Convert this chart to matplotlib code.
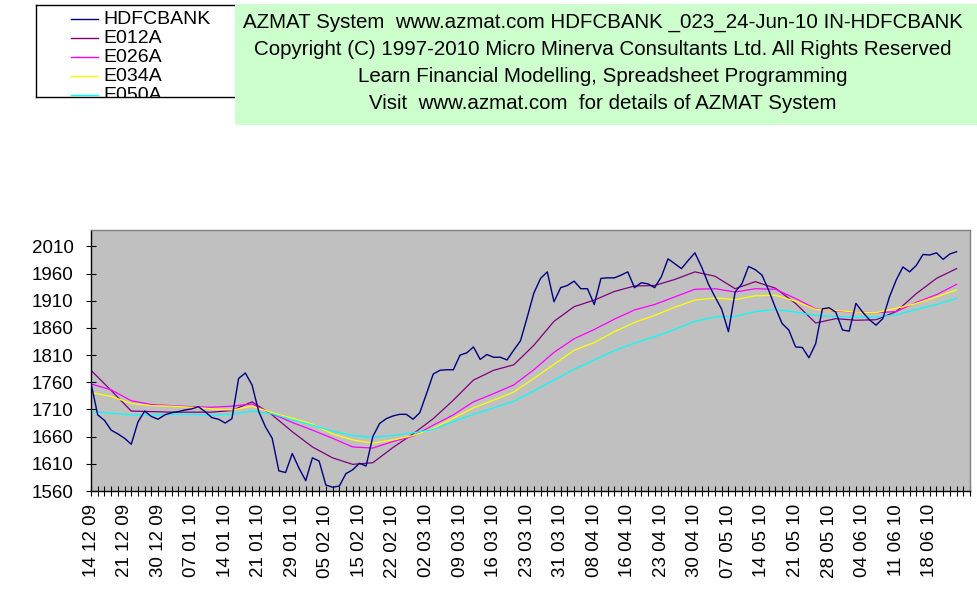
import numpy as np
import matplotlib.pyplot as plt

plt.rcParams['font.family'] = ['Liberation Sans', 'DejaVu Sans']

# closing prices, one per trading day (14 Dec 09 .. 24 Jun 10)
hdfcbank = [
    1758, 1700, 1690, 1672, 1665, 1657, 1646, 1687, 1707, 1697,
    1692, 1700, 1704, 1706, 1709, 1711, 1715, 1706, 1695, 1692,
    1685, 1693, 1767, 1777, 1755, 1706, 1678, 1657, 1597, 1594,
    1629, 1602, 1579, 1621, 1615, 1571, 1567, 1569, 1592, 1599,
    1611, 1606, 1660, 1684, 1693, 1698, 1701, 1701, 1692, 1704,
    1739, 1775, 1782, 1783, 1783, 1810, 1814, 1825, 1802, 1811,
    1806, 1806, 1801, 1819, 1836, 1879, 1924, 1951, 1963, 1908,
    1934, 1938, 1946, 1932, 1932, 1903, 1951, 1952, 1952, 1957,
    1963, 1934, 1943, 1941, 1934, 1954, 1987, 1978, 1969, 1984,
    1998, 1972, 1941, 1917, 1894, 1853, 1926, 1941, 1973, 1967,
    1957, 1929, 1897, 1868, 1856, 1825, 1824, 1805, 1831, 1895,
    1897, 1889, 1856, 1854, 1905, 1889, 1875, 1865, 1877, 1917,
    1948, 1972, 1963, 1975, 1995, 1994, 1998, 1986, 1996, 2000,
]

ema_days = list(range(0, 130, 3))
e012a = [1782, 1745, 1707, 1706, 1705, 1705, 1705, 1708, 1724, 1700,
         1669, 1641, 1621, 1609, 1612, 1640, 1665, 1693, 1727, 1764,
         1782, 1792, 1828, 1872, 1899, 1911, 1927, 1937, 1938, 1949,
         1963, 1955, 1932, 1945, 1933, 1905, 1869, 1877, 1874, 1875,
         1890, 1923, 1951, 1969]
e026a = [1757, 1746, 1726, 1719, 1717, 1715, 1714, 1716, 1720, 1702,
         1686, 1672, 1657, 1641, 1639, 1651, 1661, 1681, 1700, 1724,
         1739, 1755, 1783, 1815, 1840, 1857, 1876, 1893, 1903, 1917,
         1931, 1932, 1926, 1932, 1931, 1914, 1895, 1891, 1889, 1888,
         1890, 1907, 1921, 1940]
e034a = [1741, 1734, 1721, 1717, 1716, 1714, 1711, 1709, 1716, 1704,
         1694, 1683, 1665, 1654, 1648, 1654, 1662, 1675, 1694, 1713,
         1727, 1742, 1767, 1793, 1819, 1833, 1853, 1870, 1883, 1898,
         1911, 1915, 1912, 1919, 1920, 1909, 1894, 1892, 1889, 1888,
         1896, 1905, 1917, 1930]
e050a = [1706, 1703, 1700, 1700, 1701, 1701, 1700, 1701, 1707, 1702,
         1691, 1681, 1670, 1662, 1659, 1662, 1667, 1673, 1688, 1701,
         1713, 1725, 1744, 1764, 1784, 1801, 1818, 1832, 1844, 1857,
         1872, 1880, 1881, 1890, 1894, 1889, 1883, 1881, 1880, 1880,
         1884, 1894, 1903, 1914]

date_labels = ['14 12 09', '21 12 09', '30 12 09', '07 01 10', '14 01 10',
               '21 01 10', '29 01 10', '05 02 10', '15 02 10', '22 02 10',
               '02 03 10', '09 03 10', '16 03 10', '23 03 10', '31 03 10',
               '08 04 10', '16 04 10', '23 04 10', '30 04 10', '07 05 10',
               '14 05 10', '21 05 10', '28 05 10', '04 06 10', '11 06 10',
               '18 06 10']
y_ticks = list(range(1560, 2011, 50))

names = ['HDFCBANK', 'E012A', 'E026A', 'E034A', 'E050A']
colors = ['#000080', '#800080', '#FF00FF', '#FFFF00', '#00FFFF']

W, H = 977, 600
fig = plt.figure(figsize=(W / 100, H / 100), dpi=100)
fig.patch.set_facecolor('white')

# green title box
fig.patches.append(plt.Rectangle((235 / W, 1 - 125 / H), (W - 235) / W, 121 / H,
                                 transform=fig.transFigure, facecolor='#CCFFCC',
                                 edgecolor='none', zorder=0))
title_lines = [
    'AZMAT System  www.azmat.com HDFCBANK _023_24-Jun-10 IN-HDFCBANK',
    'Copyright (C) 1997-2010 Micro Minerva Consultants Ltd. All Rights Reserved',
    'Learn Financial Modelling, Spreadsheet Programming',
    'Visit  www.azmat.com  for details of AZMAT System',
]
for k, line in enumerate(title_lines):
    fig.text(603 / W, 1 - (22 + 27.3 * k) / H, line, ha='center', va='center',
             fontsize=14.8)

# main plot
ax = fig.add_axes([91 / W, 1 - 491 / H, 879 / W, 261 / H])
ax.set_facecolor('#C0C0C0')
days = np.arange(len(hdfcbank))
ax.plot(days, hdfcbank, color=colors[0], lw=1.0, zorder=5)
ax.plot(ema_days, e012a, color=colors[1], lw=0.9)
ax.plot(ema_days, e026a, color=colors[2], lw=0.9)
ax.plot(ema_days, e034a, color=colors[3], lw=0.9)
ax.plot(ema_days, e050a, color=colors[4], lw=0.9)

ax.set_xlim(0, 131)
ax.set_ylim(1560, 2040)
ax.set_yticks(y_ticks)
ax.set_yticklabels([str(v) for v in y_ticks], fontsize=13.5)
ax.set_xticks(np.arange(0, 132), minor=True)
ax.set_xticks(np.arange(0, 5 * len(date_labels), 5))
ax.set_xticklabels(date_labels, rotation=90, fontsize=13.5)
ax.tick_params(axis='both', which='both', direction='inout', length=7,
               width=0.8, color='black')
ax.tick_params(axis='x', which='major', pad=6)
ax.tick_params(axis='y', pad=9)
for side in ['top', 'right']:
    ax.spines[side].set_color('#808080')
for side in ['left', 'bottom']:
    ax.spines[side].set_color('black')
for s in ax.spines.values():
    s.set_linewidth(1.0)

# legend box, bottom entry cut off like the original
lg = fig.add_axes([36 / W, 1 - 97 / H, 202 / W, 92 / H])
lg.set_xlim(0, 202)
lg.set_ylim(92, 0)
lg.set_xticks([])
lg.set_yticks([])
lg.set_facecolor('white')
for s in lg.spines.values():
    s.set_color('black')
    s.set_linewidth(1.0)
for k, (name, c) in enumerate(zip(names, colors)):
    yy = 14 + 19.1 * k
    lg.plot([35, 62], [yy, yy], color=c, lw=1.0)
    lg.text(67, yy, name, va='center', ha='left', fontsize=14, clip_on=True)

fig.savefig('out.png', dpi=100)
